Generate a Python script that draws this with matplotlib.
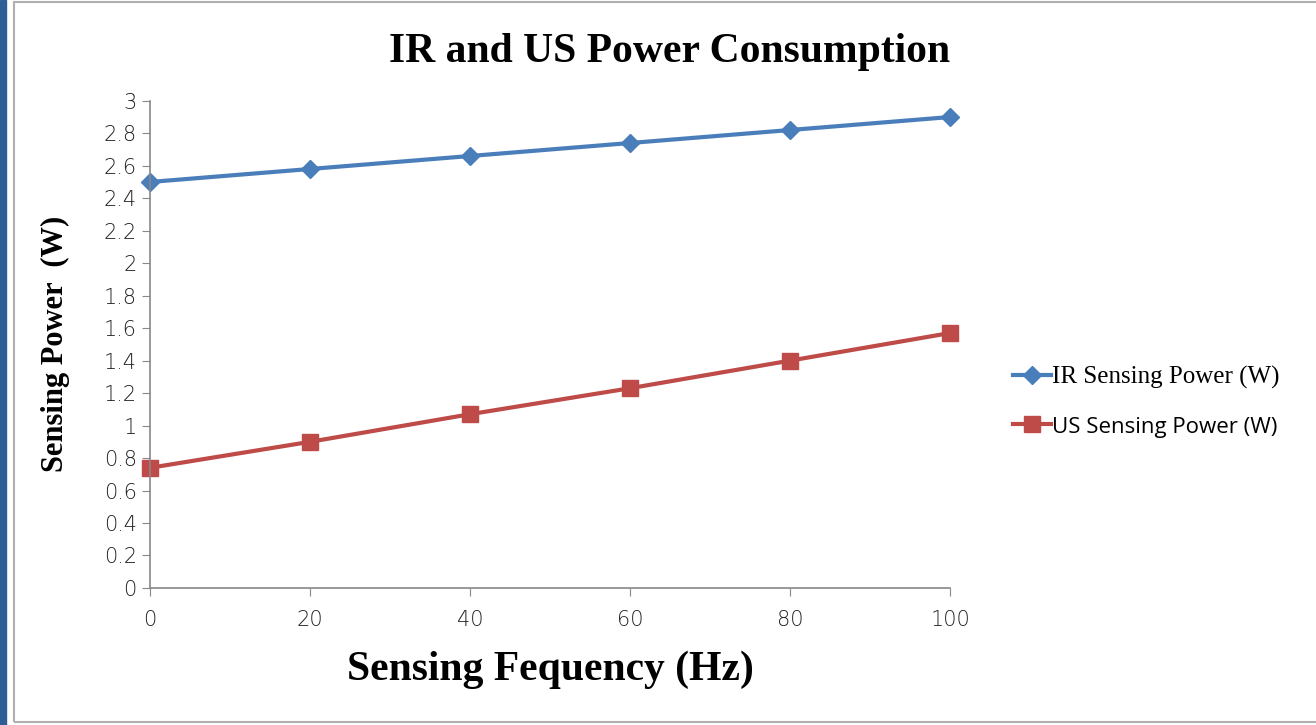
import matplotlib.pyplot as plt
from matplotlib.patches import Rectangle

freq = [0, 20, 40, 60, 80, 100]
ir_power = [2.50, 2.58, 2.66, 2.74, 2.82, 2.90]
us_power = [0.74, 0.90, 1.07, 1.23, 1.40, 1.57]
yticks = [0, 0.2, 0.4, 0.6, 0.8, 1, 1.2, 1.4, 1.6, 1.8, 2, 2.2, 2.4, 2.6, 2.8, 3]
xticks = [0, 20, 40, 60, 80, 100]

fig = plt.figure(figsize=(13.16, 7.25), dpi=100)
ax = fig.add_axes([0.114, 0.189, 0.608, 0.672])

# outer frame like the original slide
fig.patches.append(Rectangle((0, 0), 0.0045, 1, transform=fig.transFigure,
                             color="#2e5e96", zorder=0))
fig.patches.append(Rectangle((0.0105, 0.004), 0.995, 0.993, transform=fig.transFigure,
                             fill=False, edgecolor="#b0b0b0", lw=1.5, zorder=0))

ax.plot(freq, ir_power, color="#4a7ebb", lw=3, marker="D", ms=9,
        label="IR Sensing Power (W)", clip_on=False)
ax.plot(freq, us_power, color="#be4b48", lw=3, marker="s", ms=11,
        label="US Sensing Power (W)", clip_on=False)

ax.set_xlim(0, 100)
ax.set_ylim(0, 3)
ax.set_xticks(xticks)
ax.set_yticks(yticks)
ax.set_yticklabels([("%g" % v) for v in yticks])
ax.tick_params(direction="out", length=6, color="#888888", labelsize=15,
               labelcolor="#222222")
for lab in ax.get_xticklabels() + ax.get_yticklabels():
    lab.set_fontfamily("DejaVu Sans")
    lab.set_fontweight("light")
ax.tick_params(axis="x", pad=10)
for side in ["top", "right"]:
    ax.spines[side].set_visible(False)
for side in ["left", "bottom"]:
    ax.spines[side].set_color("#888888")
    ax.spines[side].set_linewidth(1.2)

fig.text(0.509, 0.928, "IR and US Power Consumption", ha="center", va="center",
         fontsize=30, fontweight="bold", family="Liberation Serif")
fig.text(0.418, 0.076, "Sensing Fequency (Hz)", ha="center", va="center",
         fontsize=30, fontweight="bold", family="Liberation Serif")
fig.text(0.042, 0.526, "Sensing Power  (W)", ha="center", va="center",
         rotation=90, fontsize=22, fontweight="bold", family="Liberation Serif")

leg = fig.legend(loc="center left", bbox_to_anchor=(0.753, 0.446), frameon=False,
                 fontsize=18, handlelength=1.5, handletextpad=0.05, labelspacing=1.05)
leg.get_texts()[0].set_fontfamily("Liberation Serif")
leg.get_texts()[1].set_fontfamily("Open Sans")
leg.get_texts()[1].set_fontsize(16)

fig.savefig("out.png", dpi=100)
